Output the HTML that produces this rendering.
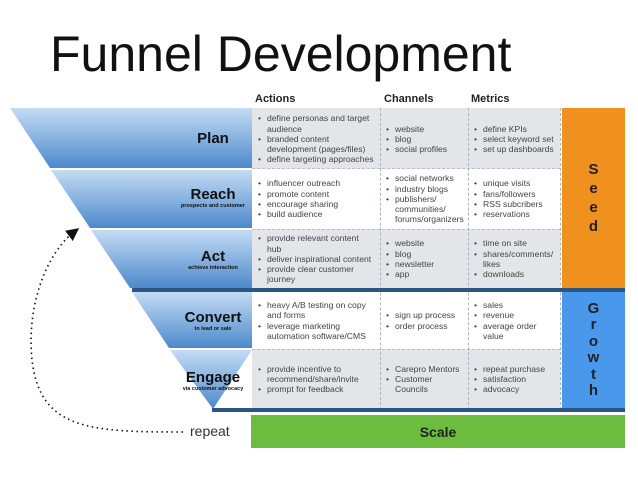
<!DOCTYPE html>
<html><head><meta charset="utf-8"><style>
body{margin:0;width:638px;height:479px;background:#fff;position:relative;overflow:hidden;font-family:"Liberation Sans",sans-serif}
.a{position:absolute}
.t{font-size:8.6px;color:#444;line-height:10.3px}
.t ul{margin:0;padding:0 0 0 11px}
.t li{list-style:none;position:relative}
.t li:before{content:"•";position:absolute;left:-9px}
.h{font-size:11px;font-weight:bold;color:#222}
.lab{position:absolute;width:110px;text-align:center;color:#111;font-weight:bold;font-size:15px;line-height:16px}
.lab small{display:block;font-size:5.5px;line-height:7px}
.cell{position:absolute;display:flex;align-items:center;box-sizing:border-box;padding-left:4px;padding-right:5px}
</style></head><body>
<div class="a" style="left:50px;top:26px;font-size:50px;color:#111;line-height:56px">Funnel Development</div>
<div class="a h" style="left:255px;top:93px">Actions</div>
<div class="a h" style="left:384px;top:93px">Channels</div>
<div class="a h" style="left:471px;top:93px">Metrics</div>
<div class="a" style="left:252px;top:108px;width:308px;height:61px;background:#e3e5e9"></div>
<div class="a" style="left:252px;top:229px;width:308px;height:59px;background:#e3e5e9"></div>
<div class="a" style="left:252px;top:349px;width:308px;height:61px;background:#e3e5e9"></div>
<div class="a" style="left:252px;top:168px;width:308px;border-top:1px dashed #b8c0cc"></div>
<div class="a" style="left:252px;top:229px;width:308px;border-top:1px dashed #b8c0cc"></div>
<div class="a" style="left:252px;top:349px;width:308px;border-top:1px dashed #b8c0cc"></div>
<div class="a" style="left:380px;top:108px;height:302px;border-left:1px dashed #a8b4c4"></div>
<div class="a" style="left:468px;top:108px;height:302px;border-left:1px dashed #a8b4c4"></div>
<div class="a" style="left:560px;top:108px;height:302px;border-left:1px dashed #a8b4c4"></div>
<svg class="a" style="left:0;top:0" width="638" height="479">
<defs><linearGradient id="g" x1="0" y1="0" x2="0" y2="1"><stop offset="0" stop-color="#c4dcf4"/><stop offset="1" stop-color="#4c89cc"/></linearGradient>
<marker id="ar" markerWidth="8" markerHeight="8" refX="4" refY="4" orient="auto"><path d="M0,0 L8,4 L0,8 z" fill="#111"/></marker></defs>
<polygon points="10,108 252,108 252,168 50,168" fill="url(#g)"/>
<polygon points="51,170 252,170 252,228 90,228" fill="url(#g)"/>
<polygon points="91,230 252,230 252,288 130,288" fill="url(#g)"/>
<polygon points="132,292 252,292 252,348 169,348" fill="url(#g)"/>
<polygon points="170,350 252,350 213,409" fill="url(#g)"/>
<rect x="132" y="288" width="493" height="4" fill="#2a5585"/>
<rect x="212" y="408" width="413" height="4" fill="#2a5585"/>
<path d="M183,432 C90,432 40,430 32,360 C26,300 50,250 74,232" fill="none" stroke="#111" stroke-width="1.6" stroke-dasharray="1.5,3.5" marker-end="url(#ar)"/>
</svg>
<div class="a" style="left:562px;top:108px;width:63px;height:180px;background:#f0901e;display:flex;align-items:center;justify-content:center;text-align:center;font-weight:bold;font-size:15px;line-height:19px;color:#222">S<br>e<br>e<br>d</div>
<div class="a" style="left:562px;top:292px;width:63px;height:116px;background:#4a98ec;display:flex;align-items:center;justify-content:center;text-align:center;font-weight:bold;font-size:15px;line-height:16.5px;color:#222">G<br>r<br>o<br>w<br>t<br>h</div>
<div class="a" style="left:251px;top:415px;width:374px;height:33px;background:#6cbc40;display:flex;align-items:center;justify-content:center;font-weight:bold;font-size:14px;color:#222">Scale</div>
<div class="a" style="left:190px;top:423px;font-size:14px;color:#333">repeat</div>
<div class="lab" style="left:158px;top:131px">Plan</div>
<div class="lab" style="left:158px;top:187px">Reach<small>prospects and customer</small></div>
<div class="lab" style="left:158px;top:249px">Act<small>achieve interaction</small></div>
<div class="lab" style="left:158px;top:310px">Convert<small>to lead or sale</small></div>
<div class="lab" style="left:158px;top:370px">Engage<small>via customer advocacy</small></div>
<div class="cell t" style="left:252px;top:110px;width:128px;height:58px"><ul><li>define personas and target audience</li><li>branded content development (pages/files)</li><li>define targeting approaches</li></ul></div>
<div class="cell t" style="left:380px;top:110px;width:88px;height:58px"><ul><li>website</li><li>blog</li><li>social profiles</li></ul></div>
<div class="cell t" style="left:468px;top:110px;width:92px;height:58px"><ul><li>define KPIs</li><li>select keyword set</li><li>set up dashboards</li></ul></div>
<div class="cell t" style="left:252px;top:169px;width:128px;height:60px"><ul><li>influencer outreach</li><li>promote content</li><li>encourage sharing</li><li>build audience</li></ul></div>
<div class="cell t" style="left:380px;top:169px;width:88px;height:60px"><ul><li>social networks</li><li>industry blogs</li><li>publishers/ communities/ forums/organizers</li></ul></div>
<div class="cell t" style="left:468px;top:169px;width:92px;height:60px"><ul><li>unique visits</li><li>fans/followers</li><li>RSS subcribers</li><li>reservations</li></ul></div>
<div class="cell t" style="left:252px;top:230px;width:128px;height:58px"><ul><li>provide relevant content hub</li><li>deliver inspirational content</li><li>provide clear customer journey</li></ul></div>
<div class="cell t" style="left:380px;top:230px;width:88px;height:58px"><ul><li>website</li><li>blog</li><li>newsletter</li><li>app</li></ul></div>
<div class="cell t" style="left:468px;top:230px;width:92px;height:58px"><ul><li>time on site</li><li>shares/comments/ likes</li><li>downloads</li></ul></div>
<div class="cell t" style="left:252px;top:292px;width:128px;height:57px"><ul><li>heavy A/B testing on copy and forms</li><li>leverage marketing automation software/CMS</li></ul></div>
<div class="cell t" style="left:380px;top:292px;width:88px;height:57px"><ul><li>sign up process</li><li>order process</li></ul></div>
<div class="cell t" style="left:468px;top:292px;width:92px;height:57px"><ul><li>sales</li><li>revenue</li><li>average order value</li></ul></div>
<div class="cell t" style="left:252px;top:350px;width:128px;height:58px"><ul><li>provide incentive to recommend/share/invite</li><li>prompt for feedback</li></ul></div>
<div class="cell t" style="left:380px;top:350px;width:88px;height:58px"><ul><li>Carepro Mentors</li><li>Customer Councils</li></ul></div>
<div class="cell t" style="left:468px;top:350px;width:92px;height:58px"><ul><li>repeat purchase</li><li>satisfaction</li><li>advocacy</li></ul></div>
</body></html>
